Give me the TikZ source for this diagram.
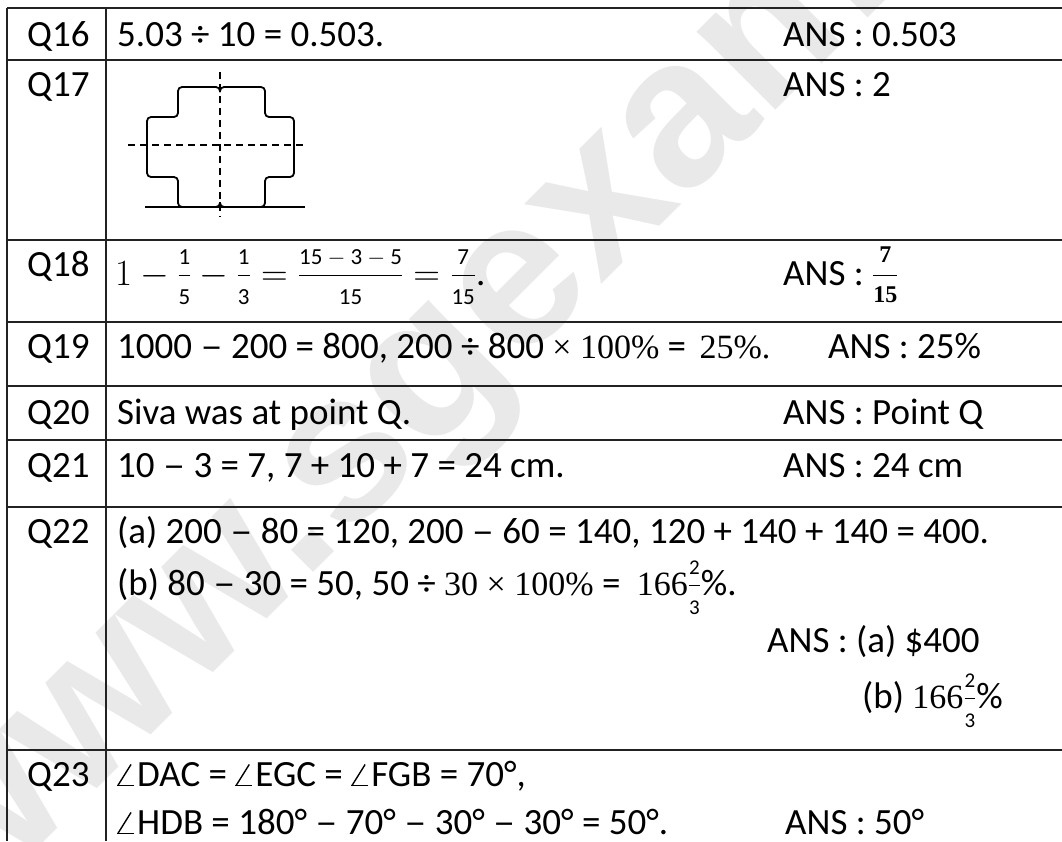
\RequirePackage{fix-cm}
\documentclass[tikz,border=0pt]{standalone}
\usepackage{amsmath}
\usepackage[no-math]{fontspec}
\setmainfont{Carlito}
\newfontfamily\tnr{Liberation Serif}
\newfontfamily\wmfont{Liberation Sans}
% fraction: size, numerator, denominator
\newcommand\fr[3]{\genfrac{}{}{0.6pt}{}{\hbox{\fontsize{#1}{#1}\selectfont\rule[-10pt]{0pt}{10pt}#2}}{\hbox{\fontsize{#1}{#1}\selectfont\rule{0pt}{28pt}#3}}}
\newcommand\frb[2]{\genfrac{}{}{0.6pt}{}{\hbox{\fontsize{24}{24}\selectfont\tnr\bfseries\rule[-12pt]{0pt}{12pt}#1}}{\hbox{\fontsize{24}{24}\selectfont\tnr\bfseries\rule{0pt}{26pt}#2}}}
\newcommand\sr[1]{{\fontsize{34}{34}\selectfont\tnr #1}}
\newcommand\dsh{\scalebox{1.2}[1]{–}}
\newcommand\ang{\makebox[20pt][l]{\rule{17pt}{1.5pt}\hspace{-17pt}\rotatebox[origin=bl]{58}{\rule{25pt}{1.4pt}}}}
\newcommand\mminus{${}-{}$}
\definecolor{wmgray}{HTML}{E9E9E9}
\definecolor{linegray}{HTML}{222222}
\tikzset{
  txt/.style={anchor=base west, inner sep=0pt, font=\fontsize{37}{44}\selectfont},
  tline/.style={line width=1.6pt, draw=linegray},
  crossline/.style={line width=1.8pt, rounded corners=4pt},
  dline/.style={line width=1.3pt, dash pattern=on 7pt off 5pt},
}
\begin{document}
\begin{tikzpicture}[x=1pt,y=-1pt]
\useasboundingbox (0,0) rectangle (1062,841);
\clip (0,0) rectangle (1062,841);
\fill[white] (0,0) rectangle (1062,841);
% watermark
\node[anchor=base, inner sep=0pt, rotate=45, text=wmgray, font=\wmfont\bfseries\fontsize{210}{210}\selectfont] (wm) at (603,283) {www.sgexam.com};
% table lines
\coordinate (tl) at (7,8);
\coordinate (bl) at (7,841);
\coordinate (tm) at (106,8);
\coordinate (bm) at (106,841);
\draw[tline] (tl) -- (bl);
\draw[tline] (tm) -- (bm);
\foreach \yy/\nm in {8/h0,60/h1,240/h2,322/h3,386/h4,440/h5,507/h6,750/h7}{
  \coordinate (\nm a) at (7,\yy);
  \coordinate (\nm b) at (1062,\yy);
  \draw[tline] (\nm a) -- (\nm b);
}
% question labels
\node[txt] (q16) at (27,46) {Q16};
\node[txt] (q17) at (27,96) {Q17};
\node[txt] (q18) at (27,276) {Q18};
\node[txt] (q19) at (27,358) {Q19};
\node[txt] (q20) at (27,424) {Q20};
\node[txt] (q21) at (27,477) {Q21};
\node[txt] (q22) at (27,543) {Q22};
\node[txt] (q23) at (27,786) {Q23};
% working
\node[txt] (w16) at (117,46) {5.03 ÷ 10 = 0.503.};
\node[txt] (w18) at (115,285) {$1-\fr{23}{1}{5}-\fr{23}{1}{3}=\fr{23}{15\mminus3\mminus5}{15}=\fr{23}{7}{15}$.};
\node[txt] (w19) at (117,358) {1000 \dsh{} 200 = 800, 200 ÷ 800 \sr{× 100\%} =\hspace{5pt} \sr{25\%.}};
\node[txt] (w20) at (117,424) {Siva was at point Q.};
\node[txt] (w21) at (117,477) {10 \dsh{} 3 = 7, 7 + 10 + 7 = 24 cm.};
\node[txt] (w22a) at (117,543) {(a) 200 \dsh{} 80 = 120, 200 \dsh{} 60 = 140, 120 + 140 + 140 = 400.};
\node[txt] (w22b) at (117,595) {(b) 80 \dsh{} 30 = 50, 50 ÷ \sr{30 × 100\%} =\hspace{8pt} \sr{166}$\fr{21}{2}{3}$\%.};
\node[txt] (w23a) at (117,786) {\ang DAC = \ang EGC = \ang FGB = 70°,};
\node[txt] (w23b) at (117,834) {\ang HDB = 180° \dsh{} 70° \dsh{} 30° \dsh{} 30° = 50°.};
% answers
\node[txt] (a16) at (783,46) {ANS : 0.503};
\node[txt] (a17) at (783,96) {ANS : 2};
\node[txt] (a18) at (783,285) {ANS : $\frb{7}{15}$};
\node[txt] (a19) at (828,358) {ANS : 25\%};
\node[txt] (a20) at (783,424) {ANS : Point Q};
\node[txt] (a21) at (783,477) {ANS : 24 cm};
\node[txt] (a22a) at (767,652) {ANS : (a) \$400};
\node[txt] (a22b) at (862,708) {(b) \sr{166}$\fr{21}{2}{3}$\%};
\node[txt] (a23) at (785,834) {ANS : 50°};
% Q17 figure
\coordinate (vt) at (220,72);
\coordinate (vb) at (220,217);
\coordinate (hl) at (128,145);
\coordinate (hr) at (305,145);
\coordinate (bl1) at (145,207);
\coordinate (br1) at (305,207);
\draw[crossline] (220,92) -- (220,87) -- (178,87) -- (178,117) -- (147,117) -- (147,177) -- (178,177) -- (178,207) -- (220,207) -- (220,202);
\draw[crossline] (220,92) -- (220,87) -- (265,87) -- (265,117) -- (294,117) -- (294,177) -- (265,177) -- (265,207) -- (220,207) -- (220,202);
\draw[line width=2.4pt] (bl1) -- (br1);
\draw[dline] (vt) -- (vb);
\draw[dline] (hl) -- (hr);
\end{tikzpicture}
\end{document}
